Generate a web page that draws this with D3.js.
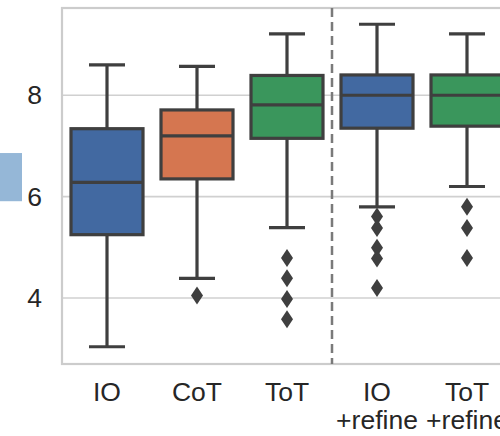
<!DOCTYPE html>
<html>
<head>
<meta charset="utf-8">
<script src="https://cdn.jsdelivr.net/npm/d3@7"></script>
<style>
  html, body { margin: 0; padding: 0; background: #ffffff; }
  svg { display: block; font-family: "Liberation Sans", Arial, sans-serif; }
</style>
</head>
<body>
<svg id="chart" width="500" height="436"></svg>
<script>
// ---- data ----
const categories = ["IO", "CoT", "ToT", "IO\n+refine", "ToT\n+refine"];
const boxColors = ["#4269a1", "#d57650", "#3a965c", "#4269a1", "#3a965c"];
const whiskerLow  = [3.04, 4.39, 5.39, 5.80, 6.20];
const q1          = [5.25, 6.35, 7.15, 7.35, 7.39];
const median      = [6.28, 7.20, 7.81, 8.00, 8.00];
const q3          = [7.34, 7.71, 8.39, 8.40, 8.40];
const whiskerHigh = [8.60, 8.57, 9.21, 9.40, 9.21];
const outliers = [
  [],
  [4.05],
  [4.79, 4.39, 3.98, 3.58],
  [5.61, 5.38, 4.99, 4.78, 4.20],
  [5.80, 5.38, 4.79]
];
const yTicks = [4, 6, 8];
const yDomain = [2.7, 9.72];
const neighborBox = [5.91, 6.86]; // partial box of neighbouring panel at left edge

// ---- layout ----
const svg = d3.select("#chart");
const plot = { left: 62, top: 8, bottom: 364, right: 512 };
const y = d3.scaleLinear().domain(yDomain).range([plot.bottom, plot.top]);
const x = d3.scaleBand().domain(categories).range([plot.left, plot.right]).padding(0);
const bw = x.bandwidth() * 0.8;
const lineCol = "#3f3f3f";
const gridCol = "#d0d0d0";
const textCol = "#262626";
const fs = 26.5;

// neighbour fragment
svg.append("rect")
  .attr("x", 0).attr("width", 22)
  .attr("y", y(neighborBox[1]))
  .attr("height", y(neighborBox[0]) - y(neighborBox[1]))
  .attr("fill", "#95b7d7");

// grid
svg.append("g").selectAll("line").data(yTicks).join("line")
  .attr("x1", plot.left).attr("x2", plot.right)
  .attr("y1", d => y(d)).attr("y2", d => y(d))
  .attr("stroke", gridCol).attr("stroke-width", 1.6);

// frame
svg.append("rect")
  .attr("x", plot.left).attr("y", plot.top)
  .attr("width", plot.right - plot.left).attr("height", plot.bottom - plot.top)
  .attr("fill", "none").attr("stroke", "#cccccc").attr("stroke-width", 2.2);

// y axis labels
const yAxis = d3.axisLeft(y).tickValues(yTicks).tickSize(0).tickPadding(20).tickFormat(d3.format("d"));
const ya = svg.append("g").attr("transform", `translate(${plot.left},0)`).call(yAxis);
ya.select(".domain").remove();
ya.selectAll("text").attr("font-size", fs).attr("fill", textCol)
  .attr("font-family", "Liberation Sans, Arial, sans-serif");

// dashed separator
const sepX = (x(categories[2]) + x.bandwidth() + x(categories[3])) / 2;
svg.append("line")
  .attr("x1", sepX).attr("x2", sepX)
  .attr("y1", plot.top).attr("y2", plot.bottom)
  .attr("stroke", "#7a7a7a").attr("stroke-width", 2.5)
  .attr("stroke-dasharray", "9,5");

// boxes
const boxes = svg.append("g").selectAll("g").data(categories).join("g")
  .attr("transform", d => `translate(${x(d) + x.bandwidth() / 2},0)`);
const sw = 3.2;

boxes.append("line") // lower whisker
  .attr("x1", 0).attr("x2", 0)
  .attr("y1", (d, i) => y(q1[i])).attr("y2", (d, i) => y(whiskerLow[i]))
  .attr("stroke", lineCol).attr("stroke-width", sw);
boxes.append("line") // upper whisker
  .attr("x1", 0).attr("x2", 0)
  .attr("y1", (d, i) => y(q3[i])).attr("y2", (d, i) => y(whiskerHigh[i]))
  .attr("stroke", lineCol).attr("stroke-width", sw);
boxes.append("line") // lower cap
  .attr("x1", -bw / 4).attr("x2", bw / 4)
  .attr("y1", (d, i) => y(whiskerLow[i])).attr("y2", (d, i) => y(whiskerLow[i]))
  .attr("stroke", lineCol).attr("stroke-width", sw);
boxes.append("line") // upper cap
  .attr("x1", -bw / 4).attr("x2", bw / 4)
  .attr("y1", (d, i) => y(whiskerHigh[i])).attr("y2", (d, i) => y(whiskerHigh[i]))
  .attr("stroke", lineCol).attr("stroke-width", sw);
boxes.append("rect")
  .attr("x", -bw / 2).attr("width", bw)
  .attr("y", (d, i) => y(q3[i]))
  .attr("height", (d, i) => y(q1[i]) - y(q3[i]))
  .attr("fill", (d, i) => boxColors[i])
  .attr("stroke", lineCol).attr("stroke-width", sw);
boxes.append("line") // median
  .attr("x1", -bw / 2).attr("x2", bw / 2)
  .attr("y1", (d, i) => y(median[i])).attr("y2", (d, i) => y(median[i]))
  .attr("stroke", lineCol).attr("stroke-width", sw);

// outliers (thin diamonds)
boxes.each(function(d, i) {
  d3.select(this).selectAll("path.fl").data(outliers[i]).join("path")
    .attr("class", "fl")
    .attr("d", v => `M0,${y(v) - 9} L6,${y(v)} L0,${y(v) + 9} L-6,${y(v)} Z`)
    .attr("fill", lineCol);
});

// x labels
const xl = svg.append("g").selectAll("text").data(categories).join("text")
  .attr("x", d => x(d) + x.bandwidth() / 2)
  .attr("y", 401)
  .attr("text-anchor", "middle")
  .attr("font-size", fs)
  .attr("fill", textCol);
xl.each(function(d) {
  const parts = d.split("\n");
  d3.select(this).selectAll("tspan").data(parts).join("tspan")
    .attr("x", x(d) + x.bandwidth() / 2)
    .attr("dy", (p, j) => j === 0 ? 0 : 28)
    .text(p => p);
});
</script>
</body>
</html>
